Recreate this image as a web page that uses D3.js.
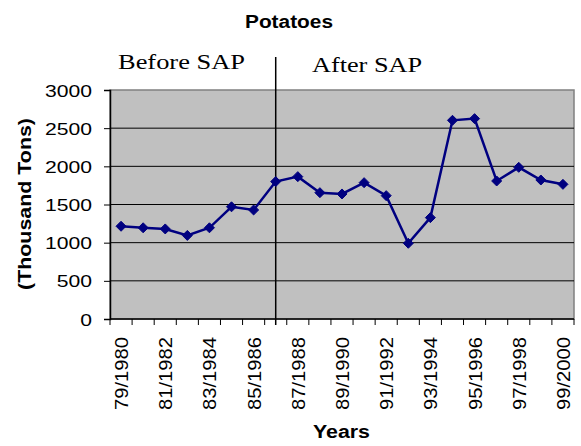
<!DOCTYPE html>
<html><head><meta charset="utf-8">
<script src="https://cdn.jsdelivr.net/npm/d3@7"></script>
<style>body{margin:0;background:#fff}svg{display:block}</style>
</head><body>
<svg id="c" width="581" height="446"></svg>
<script>
const years = ["79/1980","80/1981","81/1982","82/1983","83/1984","84/1985","85/1986","86/1987","87/1988","88/1989","89/1990","90/1991","91/1992","92/1993","93/1994","94/1995","95/1996","96/1997","97/1998","98/1999","99/2000"];
const production = [1215,1195,1180,1095,1195,1470,1428,1800,1865,1655,1638,1786,1616,992,1328,2603,2625,1808,1987,1821,1764];
const yTicks = [0,500,1000,1500,2000,2500,3000];
const sapYear = "86/1987";

const SANS = "Liberation Sans, Arial, sans-serif";
const SERIF = "Liberation Serif, Times New Roman, serif";
const svg = d3.select("#c");
const L=110,R=574,T=90,B=319;
const x = d3.scaleBand().domain(years).range([L,R]);
const y = d3.scaleLinear().domain([0,3000]).range([B,T]);
const cx = d => x(d)+x.bandwidth()/2;

svg.append("rect").attr("x",L).attr("y",T).attr("width",R-L).attr("height",B-T)
  .attr("fill","#c0c0c0").attr("stroke","#808080").attr("stroke-width",1.5);

svg.append("g").selectAll("line").data(yTicks.filter(d=>d>0 && d<3000)).join("line")
  .attr("x1",L).attr("x2",R).attr("y1",d=>y(d)).attr("y2",d=>y(d))
  .attr("stroke","#000").attr("stroke-width",1);

// y axis
const ya = svg.append("g").attr("transform",`translate(${L},0)`)
  .call(d3.axisLeft(y).tickValues(yTicks).tickSize(6).tickPadding(12).tickFormat(d3.format("d")));
ya.select(".domain").attr("stroke","#000").attr("stroke-width",1.5);
ya.selectAll(".tick line").attr("stroke","#000");
ya.selectAll("text").attr("font-family",SANS).attr("font-size",17).attr("fill","#000")
  .attr("dy","0.36em")
  .attr("textLength",d=>String(d).length*11.75).attr("lengthAdjust","spacingAndGlyphs");

// x axis ticks at band edges
const edges = years.map(d=>x(d)).concat([R]);
svg.append("g").selectAll("line").data(edges).join("line")
  .attr("x1",d=>d).attr("x2",d=>d).attr("y1",B).attr("y2",B+6).attr("stroke","#000");
svg.append("line").attr("x1",L).attr("x2",R).attr("y1",B).attr("y2",B).attr("stroke","#000").attr("stroke-width",1.5);

svg.append("g").selectAll("text").data(years.filter((d,i)=>i%2===0)).join("text")
  .attr("transform",d=>`translate(${cx(d)+7},${B+18}) rotate(-90)`)
  .attr("text-anchor","end")
  .attr("font-family",SANS).attr("font-size",18).attr("fill","#000")
  .attr("textLength",73).attr("lengthAdjust","spacingAndGlyphs")
  .text(d=>d);

// SAP divider
const sx = cx(sapYear);
svg.append("line").attr("x1",sx).attr("x2",sx).attr("y1",57).attr("y2",B+6).attr("stroke","#000").attr("stroke-width",1.5);

// line
const line = d3.line().x((d,i)=>cx(years[i])).y(d=>y(d));
svg.append("path").datum(production).attr("d",line).attr("fill","none").attr("stroke","#000080").attr("stroke-width",2.5);
svg.append("g").selectAll("path").data(production).join("path")
  .attr("transform",(d,i)=>`translate(${cx(years[i])},${y(d)})`)
  .attr("d","M0,-5L5,0L0,5L-5,0Z").attr("fill","#000080").attr("stroke","#000080");

// texts
svg.append("text").attr("x",245).attr("y",28)
  .attr("font-family",SANS).attr("font-weight","bold").attr("font-size",18)
  .attr("textLength",88).attr("lengthAdjust","spacingAndGlyphs").text("Potatoes");
svg.append("text").attr("x",313).attr("y",438)
  .attr("font-family",SANS).attr("font-weight","bold").attr("font-size",18)
  .attr("textLength",57).attr("lengthAdjust","spacingAndGlyphs").text("Years");
svg.append("text").attr("transform","translate(31,290) rotate(-90)")
  .attr("font-family",SANS).attr("font-weight","bold").attr("font-size",19)
  .attr("textLength",172).attr("lengthAdjust","spacingAndGlyphs").text("(Thousand Tons)");
svg.append("text").attr("x",118).attr("y",69)
  .attr("font-family",SERIF).attr("font-size",22)
  .attr("textLength",127).attr("lengthAdjust","spacingAndGlyphs").text("Before SAP");
svg.append("text").attr("x",312).attr("y",72)
  .attr("font-family",SERIF).attr("font-size",22)
  .attr("textLength",110).attr("lengthAdjust","spacingAndGlyphs").text("After SAP");
</script>
</body></html>
